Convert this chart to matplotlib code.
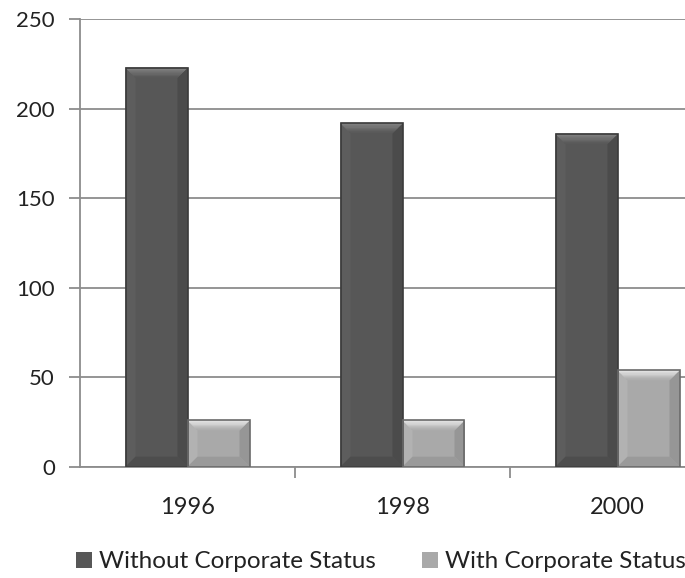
import matplotlib.pyplot as plt
from matplotlib.patches import Polygon
from matplotlib.colors import to_rgb
import numpy as np

plt.rcParams['font.family'] = ['Lato', 'DejaVu Sans']

years = ["1996", "1998", "2000"]
without_corp = [223, 192, 186]
with_corp = [26, 26, 54]
series_names = ["Without Corporate Status", "With Corporate Status"]

# face, top bevel (outer), left, right, bottom, edge
dark_style = ["#575757", "#8a8a8a", "#5d5d5d", "#4b4b4b", "#4d4d4d", "#3a3a3a"]
light_style = ["#a9a9a9", "#f2f2f2", "#b2b2b2", "#969696", "#9a9a9a", "#6a6a6a"]


def add_bevel(ax, bar, style, depth_px=10, steps=8):
    x0, y0 = bar.get_x(), bar.get_y()
    x1, y1 = x0 + bar.get_width(), y0 + bar.get_height()
    inv = ax.transData.inverted()
    p0 = inv.transform((0, 0))
    p1 = inv.transform((depth_px, depth_px))
    dx, dy = p1[0] - p0[0], p1[1] - p0[1]
    dy = min(dy, (y1 - y0) / 2)
    face, top, left, right, bottom, edge = style
    sides = [
        ([(x0, y0), (x0, y1), (x0 + dx, y1 - dy), (x0 + dx, y0 + dy)], left),
        ([(x1, y0), (x1, y1), (x1 - dx, y1 - dy), (x1 - dx, y0 + dy)], right),
        ([(x0, y0), (x1, y0), (x1 - dx, y0 + dy), (x0 + dx, y0 + dy)], bottom),
    ]
    for pts, c in sides:
        ax.add_patch(Polygon(pts, closed=True, facecolor=c, edgecolor="none", zorder=3))
    # top bevel as a gradient, in slices
    c_top, c_face = np.array(to_rgb(top)), np.array(to_rgb(face))
    for i in range(steps):
        t0, t1 = i / steps, (i + 1) / steps
        c = c_top + (c_face - c_top) * (t0 + t1) / 2
        pts = [(x0 + dx * t0, y1 - dy * t0), (x1 - dx * t0, y1 - dy * t0),
               (x1 - dx * t1, y1 - dy * t1), (x0 + dx * t1, y1 - dy * t1)]
        ax.add_patch(Polygon(pts, closed=True, facecolor=c, edgecolor=c,
                             linewidth=0.3, zorder=3))
    ax.add_patch(Polygon([(x0, y0), (x1, y0), (x1, y1), (x0, y1)], closed=True,
                         facecolor="none", edgecolor=edge, linewidth=1.2, zorder=4))


fig = plt.figure(figsize=(6.85, 5.78), dpi=100)
ax = fig.add_axes([80 / 685, 111.3 / 578, 645 / 685, 447.4 / 578])

x = np.arange(len(years))
w = 62 / 215
bars1 = ax.bar(x - w / 2, without_corp, w, color=dark_style[0], label=series_names[0], zorder=2)
bars2 = ax.bar(x + w / 2, with_corp, w, color=light_style[0], label=series_names[1], zorder=2)

ax.set_xlim(-0.5, 2.5)
ax.set_ylim(0, 250)
ax.set_yticks(range(0, 251, 50))
ax.yaxis.grid(True, color="#8c8c8c", linewidth=1.3)
ax.set_axisbelow(True)

for s in ["top", "right"]:
    ax.spines[s].set_visible(False)
for s in ["left", "bottom"]:
    ax.spines[s].set_color("#8c8c8c")
    ax.spines[s].set_linewidth(1.3)

# major ticks at category boundaries, labels at centers
ax.set_xticks([0.5, 1.5])
ax.set_xticklabels([])
ax.set_xticks(x, minor=True)
ax.set_xticklabels(years, minor=True)
ax.tick_params(axis="x", which="major", length=8, color="#8c8c8c", width=1.3)
ax.tick_params(axis="x", which="minor", length=0, pad=22, labelsize=17, labelcolor="#222222")
ax.tick_params(axis="y", length=8, color="#8c8c8c", width=1.3, pad=10, labelsize=16,
               labelcolor="#222222")

fig.canvas.draw()
for b in bars1:
    add_bevel(ax, b, dark_style)
for b in bars2:
    add_bevel(ax, b, light_style)

fig.legend(loc="center left", bbox_to_anchor=(76 / 685, 1 - 562 / 578), ncol=2,
           frameon=False, fontsize=17.5, handlelength=0.66, handleheight=0.66,
           handletextpad=0.29, columnspacing=1.9, borderpad=0, borderaxespad=0,
           labelcolor="#222222")

fig.savefig("out.png", dpi=100)
